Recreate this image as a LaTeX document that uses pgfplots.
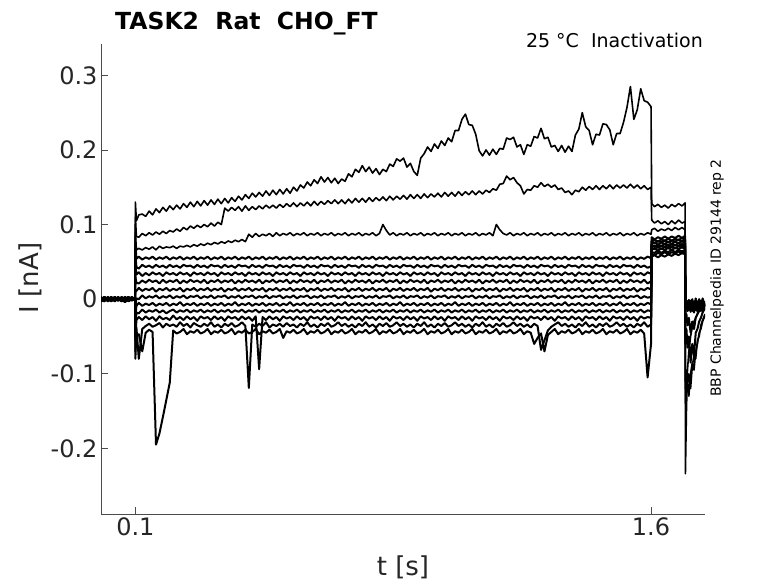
\documentclass[border=0pt]{standalone}
\usepackage{fontspec}
\setmainfont{DejaVu Sans}
\usepackage{pgfplots}
\usepackage{pgfplotstable}
\pgfplotsset{compat=1.18}
\definecolor{txt}{rgb}{0.15,0.15,0.15}
% currents in pA (axis labelled in nA)
\pgfplotstableread{
t a b c d e f g h i j k l m n
0.000 1 -2 3 0 -1 2 -3 1 0 -2 2 -1 1 -3
0.010 -2 1 0 3 -3 -1 2 -2 1 3 -1 2 -2 0
0.020 2 -3 1 -1 2 0 -2 3 -1 0 1 -3 2 1
0.030 -1 2 -2 1 0 3 1 -1 2 -3 0 1 -1 2
0.040 3 0 -1 -2 1 -2 0 2 -3 1 -2 0 3 -1
0.050 0 -1 2 2 -2 1 -1 0 1 -1 3 -2 0 2
0.060 -3 2 0 -1 3 -3 2 -1 0 2 -1 1 -2 -1
0.070 1 -1 -3 2 0 1 -2 3 -1 -2 0 2 1 -4
0.080 -1 3 1 -2 -1 2 0 -3 2 1 -2 -1 3 0
0.090 2 -2 0 1 2 -1 3 0 -2 -1 1 0 -1 2
0.099 0 1 -1 -1 1 0 -1 1 2 0 -1 2 0 -1
0.100 130 110 90 75 60 45 30 10 -10 -25 -40 -55 -80 -70
0.103 105 84 66 54 43 33 22 11 1 -9 -18 -28 -38 -48
0.11 113 83 68 57 41 36 21 15 0 -5 -19 -24 -80 -47
0.12 114 88 66 53 46 31 25 11 5 -9 -14 -28 -40 -70
0.13 111 85 69 56 43 35 22 14 1 -6 -18 -23 -36 -45
0.14 118 89 67 54 45 32 26 12 4 -8 -15 -27 -33 -41
0.15 113 86 70 57 42 36 23 15 2 -5 -17 -24 -37 -44
0.16 121 90 66 53 46 33 25 10 5 -9 -14 -29 -35 -195
0.17 116 87 71 56 43 35 21 14 1 -6 -18 -23 -32 -180
0.18 123 91 68 54 45 31 26 12 4 -8 -15 -27 -38 -158
0.19 118 88 70 57 42 36 22 15 2 -5 -19 -25 -33 -135
0.20 125 92 69 53 46 33 25 11 5 -9 -16 -28 -36 -112
0.21 120 90 71 56 43 35 23 14 1 -6 -14 -22 -34 -42
0.22 126 94 68 54 45 32 26 12 4 -8 -18 -27 -37 -46
0.23 121 91 71 57 42 36 21 15 2 -4 -15 -24 -31 -44
0.24 128 96 70 53 46 33 25 10 5 -9 -17 -28 -36 -40
0.25 123 93 72 56 44 35 22 14 1 -6 -14 -23 -33 -47
0.26 130 98 70 54 45 31 26 12 4 -8 -18 -27 -38 -43
0.27 124 95 73 57 42 36 23 15 3 -5 -15 -24 -32 -45
0.28 131 99 71 53 46 33 25 11 5 -9 -17 -29 -35 -41
0.29 125 96 74 56 43 35 22 14 1 -6 -14 -23 -37 -46
0.30 132 100 72 54 45 32 26 12 4 -8 -18 -26 -33 -44
0.31 126 97 75 57 42 36 21 15 2 -5 -15 -24 -36 -40
0.32 133 102 73 53 46 33 25 11 5 -9 -17 -28 -31 -47
0.33 127 98 76 56 44 35 23 14 1 -6 -14 -23 -37 -43
0.34 134 103 74 54 45 31 26 12 4 -8 -18 -27 -34 -45
0.35 128 100 77 57 42 36 22 15 3 -5 -15 -24 -38 -41
0.36 135 122 75 53 46 33 25 10 5 -9 -17 -29 -33 -46
0.37 129 118 78 56 43 35 23 14 1 -6 -14 -23 -36 -44
0.38 136 123 76 54 45 32 26 12 4 -8 -18 -26 -32 -40
0.39 131 119 79 57 42 36 21 15 2 -4 -15 -24 -37 -47
0.40 138 124 77 53 46 33 25 11 5 -9 -17 -28 -35 -43
0.41 133 118 80 56 44 35 22 14 1 -6 -14 -23 -31 -45
0.42 140 125 77 54 45 31 26 12 4 -8 -18 -27 -36 -41
0.43 135 119 87 57 42 36 23 15 3 -5 -15 -24 -119 -46
0.44 142 124 83 53 46 33 25 11 5 -9 -17 -29 -34 -44
0.45 137 120 88 56 43 35 22 14 1 -6 -14 -23 -37 -40
0.46 143 125 84 54 45 32 26 12 4 -8 -18 -94 -33 -47
0.47 138 121 87 57 42 36 21 15 2 -5 -15 -24 -36 -43
0.48 145 126 85 53 46 33 25 10 5 -9 -17 -28 -31 -45
0.49 139 122 88 56 44 35 23 14 1 -6 -14 -23 -38 -41
0.50 146 126 84 54 45 31 26 12 4 -8 -18 -27 -34 -46
0.51 140 122 89 57 42 36 22 15 3 -5 -15 -24 -36 -44
0.52 147 127 85 53 46 33 25 11 5 -9 -17 -29 -33 -40
0.53 141 123 88 56 43 35 23 14 1 -6 -14 -23 -37 -52
0.54 148 128 86 54 45 32 26 12 4 -8 -18 -26 -32 -43
0.55 142 124 89 57 42 36 21 15 2 -4 -15 -24 -36 -45
0.56 150 129 85 53 46 33 25 11 5 -9 -17 -28 -34 -41
0.57 145 124 88 56 44 35 22 14 1 -6 -14 -23 -38 -46
0.58 153 129 86 54 45 31 26 12 4 -8 -18 -27 -33 -44
0.59 149 125 89 57 42 36 23 15 3 -5 -15 -24 -36 -40
0.60 157 130 85 53 46 33 25 10 5 -9 -17 -29 -31 -47
0.61 152 125 88 56 43 35 22 14 1 -6 -14 -23 -37 -43
0.62 160 131 86 54 45 32 26 12 4 -8 -18 -26 -34 -45
0.63 155 126 89 57 42 36 21 15 2 -5 -15 -24 -38 -41
0.64 164 131 85 53 46 33 25 11 5 -9 -17 -28 -33 -46
0.65 157 127 88 56 44 35 23 14 1 -6 -14 -23 -36 -44
0.66 163 132 86 54 45 31 26 12 4 -8 -18 -27 -32 -40
0.67 156 128 89 57 42 36 22 15 3 -5 -15 -24 -37 -47
0.68 162 133 85 53 46 33 25 11 5 -9 -17 -29 -35 -43
0.69 155 128 88 56 43 35 23 14 1 -6 -14 -23 -31 -45
0.70 161 133 86 54 45 32 26 12 4 -8 -18 -26 -36 -41
0.71 158 128 89 57 42 36 21 15 2 -4 -15 -24 -33 -46
0.72 168 134 85 53 46 33 25 10 5 -9 -17 -28 -37 -44
0.73 164 129 88 56 44 35 22 14 1 -6 -14 -23 -34 -40
0.74 174 135 86 54 45 31 26 12 4 -8 -18 -27 -38 -47
0.75 170 130 89 57 42 36 23 15 3 -5 -15 -24 -33 -43
0.76 179 135 85 53 46 33 25 11 5 -9 -17 -29 -36 -45
0.77 171 130 88 56 43 35 22 14 1 -6 -14 -23 -31 -41
0.78 177 136 86 54 45 32 26 12 4 -8 -18 -26 -37 -46
0.79 169 131 89 57 42 36 21 15 2 -5 -15 -24 -34 -44
0.80 175 136 85 53 46 33 25 11 5 -9 -17 -28 -38 -40
0.81 167 132 88 56 44 35 23 14 1 -6 -14 -23 -33 -47
0.82 174 137 100 54 45 31 26 12 4 -8 -18 -27 -36 -43
0.83 171 132 92 57 42 36 22 15 3 -5 -15 -24 -32 -45
0.84 181 138 86 53 46 33 25 10 5 -9 -17 -29 -37 -41
0.85 178 133 89 56 43 35 23 14 1 -6 -14 -23 -35 -46
0.86 188 138 85 54 45 32 26 12 4 -8 -18 -26 -31 -44
0.87 185 134 88 57 42 36 21 15 2 -4 -15 -24 -36 -40
0.88 189 139 86 53 46 33 25 11 5 -9 -17 -28 -33 -47
0.89 177 134 89 56 44 35 22 14 1 -6 -14 -23 -37 -43
0.90 182 140 85 54 45 31 26 12 4 -8 -18 -27 -34 -45
0.91 171 135 88 57 42 36 23 15 3 -5 -15 -24 -38 -41
0.92 166 140 86 53 46 33 25 11 5 -9 -17 -29 -33 -46
0.93 189 135 89 56 43 35 22 14 1 -6 -14 -23 -36 -44
0.94 195 141 85 54 45 32 26 12 4 -8 -18 -26 -31 -40
0.95 204 136 88 57 42 36 21 15 2 -5 -15 -24 -37 -47
0.96 198 141 86 53 46 33 25 10 5 -9 -17 -28 -34 -43
0.97 208 137 89 56 44 35 23 14 1 -6 -14 -23 -38 -45
0.98 202 142 85 54 45 31 26 12 4 -8 -18 -27 -33 -41
0.99 212 137 88 57 42 36 22 15 3 -5 -15 -24 -36 -46
1.00 206 143 86 53 46 33 25 11 5 -9 -17 -29 -32 -44
1.01 216 138 89 56 43 35 23 14 1 -6 -14 -23 -37 -40
1.02 211 143 85 54 45 32 26 12 4 -8 -18 -26 -35 -47
1.03 226 138 88 57 42 36 21 15 2 -4 -15 -24 -31 -43
1.04 226 144 86 53 46 33 25 11 5 -9 -17 -28 -36 -45
1.05 241 139 89 56 44 35 22 14 1 -6 -14 -23 -33 -41
1.06 248 144 85 54 45 31 26 12 4 -8 -18 -27 -37 -46
1.07 234 140 88 57 42 36 23 15 3 -5 -15 -24 -34 -44
1.08 233 145 86 53 46 33 25 10 5 -9 -17 -29 -38 -40
1.09 221 140 89 56 43 35 22 14 1 -6 -14 -23 -33 -47
1.10 199 145 85 54 45 32 26 12 4 -8 -18 -26 -36 -43
1.11 192 141 88 57 42 36 21 15 2 -5 -15 -24 -31 -45
1.12 200 146 86 53 46 33 25 11 5 -9 -17 -28 -37 -41
1.13 193 143 89 56 44 35 23 14 1 -6 -14 -23 -34 -46
1.14 201 148 85 54 45 31 26 12 4 -8 -18 -27 -38 -44
1.15 194 146 100 57 42 36 22 15 3 -5 -15 -24 -33 -40
1.16 202 154 93 53 46 33 25 10 5 -9 -17 -29 -36 -47
1.17 201 155 88 56 43 35 23 14 1 -6 -14 -23 -32 -43
1.18 216 165 86 54 45 32 26 12 4 -8 -18 -26 -37 -45
1.19 214 160 89 57 42 36 21 15 2 -4 -15 -24 -35 -41
1.20 217 163 85 53 46 33 25 11 5 -9 -17 -28 -31 -46
1.21 204 156 88 56 44 35 22 14 1 -6 -14 -23 -36 -44
1.22 207 152 86 54 45 31 26 12 4 -8 -18 -27 -33 -40
1.23 194 141 89 57 42 36 23 15 3 -5 -15 -24 -37 -47
1.24 207 147 85 53 46 33 25 10 5 -9 -17 -29 -34 -43
1.25 205 146 88 56 43 35 22 14 1 -6 -14 -23 -38 -45
1.26 218 152 86 54 45 32 26 12 4 -8 -18 -26 -33 -60
1.27 216 150 89 57 42 36 21 15 2 -5 -15 -24 -36 -52
1.28 229 156 85 53 46 33 25 11 5 -9 -17 -28 -68 -46
1.29 215 151 88 56 44 35 23 14 1 -6 -14 -23 -55 -70
1.30 217 154 86 54 45 31 26 12 4 -8 -18 -27 -42 -48
1.31 204 150 89 57 42 36 22 15 3 -5 -15 -24 -37 -44
1.32 206 153 85 53 46 33 25 10 5 -9 -17 -29 -34 -40
1.33 198 147 88 56 43 35 23 14 1 -6 -14 -23 -31 -47
1.34 206 149 86 54 45 32 26 12 4 -8 -18 -26 -36 -43
1.35 197 143 89 57 42 36 21 15 2 -4 -15 -24 -33 -45
1.36 205 145 85 53 46 33 25 11 5 -9 -17 -28 -37 -41
1.37 198 140 88 56 44 35 22 14 1 -6 -14 -23 -34 -46
1.38 220 146 86 54 45 31 26 12 4 -8 -18 -27 -38 -44
1.39 228 144 89 57 42 36 23 15 3 -5 -15 -24 -33 -40
1.40 250 150 85 53 46 33 25 10 5 -9 -17 -29 -36 -47
1.41 231 146 88 56 43 35 22 14 1 -6 -14 -23 -31 -43
1.42 226 151 86 54 45 32 26 12 4 -8 -18 -26 -37 -45
1.43 207 147 89 57 42 36 21 15 2 -5 -15 -24 -34 -41
1.44 221 152 85 53 46 33 25 11 5 -9 -17 -28 -38 -46
1.45 220 147 88 56 44 35 23 14 1 -6 -14 -23 -33 -44
1.46 235 152 86 54 45 31 26 12 4 -8 -18 -27 -36 -40
1.47 234 148 89 57 42 36 22 15 3 -5 -15 -24 -32 -47
1.48 227 153 85 53 46 33 25 10 5 -9 -17 -29 -37 -43
1.49 207 148 88 56 43 35 23 14 1 -6 -14 -23 -35 -45
1.50 222 153 86 54 45 32 26 12 4 -8 -18 -26 -31 -41
1.51 222 149 89 57 42 36 21 15 2 -4 -15 -24 -36 -46
1.52 237 153 85 53 46 33 25 11 5 -9 -17 -28 -33 -44
1.53 257 149 88 56 44 35 22 14 1 -6 -14 -23 -37 -40
1.54 285 154 86 54 45 31 26 12 4 -8 -18 -27 -34 -47
1.55 241 149 89 57 42 36 23 15 3 -5 -15 -24 -38 -43
1.56 254 153 85 53 46 33 25 10 5 -9 -17 -29 -33 -45
1.57 282 148 88 56 43 35 22 14 1 -6 -14 -23 -36 -41
1.58 266 152 86 54 45 32 26 12 4 -8 -18 -26 -31 -46
1.59 264 147 89 57 42 36 21 15 2 -5 -15 -24 -37 -105
1.600 258 150 87 55 44 34 24 13 3 -7 -16 -25 -34 -60
1.602 128 106 93 83 78 78 74 72 71 68 66 63 61 57
1.61 124 102 95 80 80 75 76 70 72 67 68 62 59 59
1.62 127 105 91 83 77 78 73 73 69 70 65 65 62 56
1.63 123 101 94 81 80 76 76 71 72 67 68 62 60 59
1.64 126 104 92 84 78 79 74 74 70 70 66 65 63 57
1.65 122 100 95 81 81 76 77 71 73 68 69 63 60 60
1.66 127 105 92 84 78 79 74 74 70 71 66 66 63 58
1.67 124 101 96 82 81 77 77 72 73 68 69 63 61 61
1.68 128 106 93 85 79 80 75 75 71 71 67 66 64 59
1.69 125 102 96 82 82 77 78 72 74 69 70 64 61 62
1.699 129 104 93 85 79 80 75 75 71 71 67 66 64 60
1.700 -234 -140 -120 -60 -30 -12 -8 -15 -5 -10 -6 -12 -4 -9
1.703 -150 -125 -95 -40 -20 -6 -14 -4 -12 -3 -11 -5 -13 -2
1.706 -95 -110 -115 -65 -35 -13 -7 -16 -6 -11 -5 -14 -3 -10
1.710 -70 -130 -100 -50 -25 -5 -15 -3 -13 -4 -12 -4 -14 -1
1.715 -50 -100 -120 -85 -45 -14 -6 -17 -5 -12 -6 -13 -2 -11
1.720 -38 -85 -90 -60 -30 -4 -16 -3 -14 -3 -13 -5 -15 0
1.725 -30 -95 -75 -75 -40 -15 -5 -18 -4 -13 -5 -14 -3 -12
1.730 -25 -70 -80 -45 -25 -3 -15 -2 -13 -2 -12 -4 -14 1
1.735 -20 -60 -55 -40 -20 -14 -5 -17 -4 -12 -6 -13 -3 -11
1.740 -16 -45 -50 -30 -15 -4 -16 -3 -14 -3 -13 -5 -15 0
1.745 -13 -40 -35 -25 -12 -13 -5 -16 -5 -11 -5 -12 -2 -10
1.750 -10 -30 -28 -18 -10 -3 -15 -4 -13 -2 -12 -4 -14 1
1.757 -8 -22 -20 -12 -8 -12 -6 -15 -5 -10 -6 -11 -3 -9
}\data

\begin{document}
\begin{tikzpicture}
\useasboundingbox (0,0) rectangle (778pt,583pt);
\begin{axis}[
  at={(101pt,69pt)}, anchor=south west,
  scale only axis, width=604pt, height=470pt,
  xmin=0, xmax=1.757, ymin=-288, ymax=342,
  axis x line*=bottom, axis y line*=left,
  axis line style={-, draw=black!70, line width=0.8pt},
  tick align=inside, major tick length=7pt,
  tick style={draw=black!70, line width=0.8pt},
  xtick={0.1,1.6}, xticklabels={0.1,1.6},
  ytick={-200,-100,0,100,200,300},
  yticklabels={-0.2,-0.1,0,0.1,0.2,0.3},
  ticklabel style={font=\fontsize{24}{24}\selectfont, text=txt},
  tr/.style={black, line width=1.6pt, line join=round, mark=none},
  tb/.style={black, line width=2pt, line join=round, mark=none},
]
\addplot[tr] table[x=t,y=a]{\data};
\addplot[tr] table[x=t,y=b]{\data};
\addplot[tr] table[x=t,y=c]{\data};
\addplot[tb] table[x=t,y=d]{\data};
\addplot[tb] table[x=t,y=e]{\data};
\addplot[tb] table[x=t,y=f]{\data};
\addplot[tb] table[x=t,y=g]{\data};
\addplot[tb] table[x=t,y=h]{\data};
\addplot[tb] table[x=t,y=i]{\data};
\addplot[tb] table[x=t,y=j]{\data};
\addplot[tb] table[x=t,y=k]{\data};
\addplot[tb] table[x=t,y=l]{\data};
\addplot[tb] table[x=t,y=m]{\data};
\addplot[tb] table[x=t,y=n]{\data};
\end{axis}
\node[anchor=base west, font=\bfseries\fontsize{23.5}{24}\selectfont, inner sep=0] at (115pt,553pt) {TASK2\ \ Rat\ \ CHO\_FT};
\node[anchor=base east, font=\fontsize{19}{19}\selectfont, inner sep=0] at (703pt,535pt) {25 °C\ \ Inactivation};
\node[rotate=90, font=\fontsize{14}{14}\selectfont, inner sep=0] at (717pt,305pt) {BBP Channelpedia ID 29144 rep 2};
\node[rotate=90, font=\fontsize{26}{26}\selectfont, text=txt, inner sep=0] at (30pt,305pt) {I [nA]};
\node[font=\fontsize{26}{26}\selectfont, text=txt, inner sep=0] at (403pt,16pt) {t [s]};
\end{tikzpicture}
\end{document}
